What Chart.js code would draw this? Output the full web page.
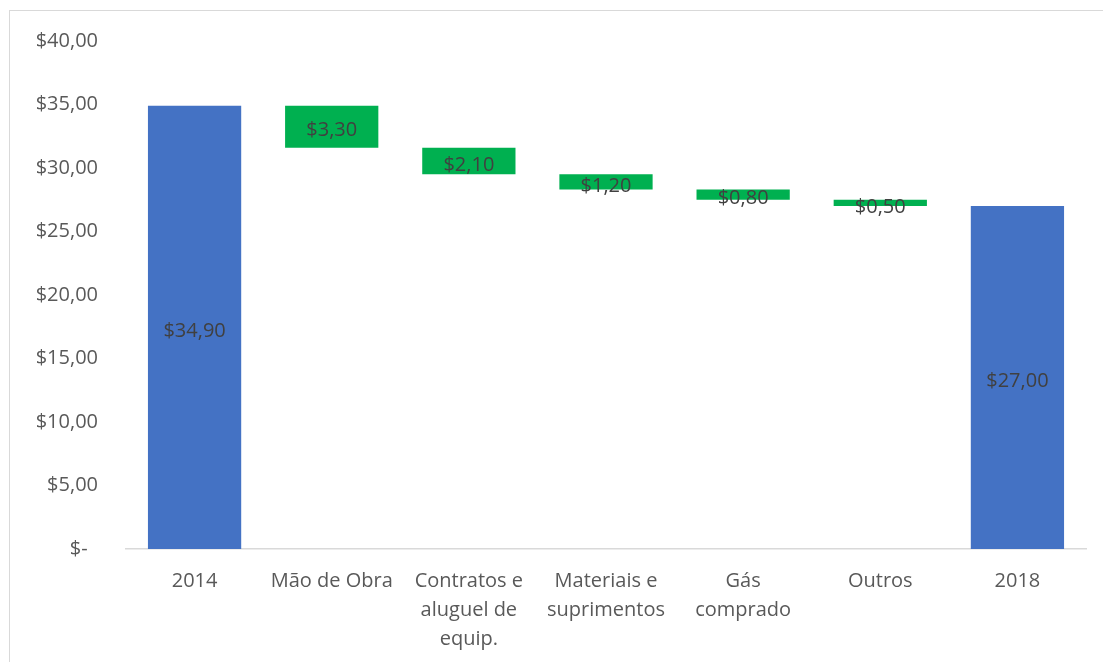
<!DOCTYPE html>
<html>
<head>
<meta charset="utf-8">
<script src="https://cdn.jsdelivr.net/npm/chart.js@4"></script>
<style>
  html, body { margin: 0; padding: 0; background: #fff; overflow: hidden; }
  #frame {
    position: absolute; left: 9px; top: 10px; width: 1200px; height: 800px;
    border-left: 1px solid #d9d9d9; border-top: 1px solid #d9d9d9;
  }
  #wrap { position: absolute; left: 0; top: 0; width: 1103px; height: 662px; }
</style>
</head>
<body>
<div id="frame"></div>
<div id="wrap"><canvas id="waterfall_chart" width="1103" height="662"></canvas></div>
<script>
const categories = [
  '2014',
  'Mão de Obra',
  ['Contratos e', 'aluguel de', 'equip.'],
  ['Materiais e', 'suprimentos'],
  ['Gás', 'comprado'],
  'Outros',
  '2018',
]
// totals are start/end values, the rest are reductions
const values = [34.9, 3.3, 2.1, 1.2, 0.8, 0.5, 27.0]
const isTotal = [true, false, false, false, false, false, true]
const yTicks = [0, 5, 10, 15, 20, 25, 30, 35, 40]

const money = (v) => '$' + v.toFixed(2).replace('.', ',')

// build floating bars for the waterfall
let running = 0
const ranges = values.map((v, i) => {
  if (isTotal[i]) {
    running = v
    return [0, v]
  }
  const top = running
  running = running - v
  return [running, top]
})

const barLabels = {
  id: 'barLabels',
  afterDatasetsDraw(chart) {
    const ctx = chart.ctx
    const meta = chart.getDatasetMeta(0)
    ctx.save()
    ctx.font = '20px "Open Sans"'
    ctx.fillStyle = '#404040'
    ctx.textAlign = 'center'
    ctx.textBaseline = 'middle'
    meta.data.forEach((bar, i) => {
      const mid = (bar.y + bar.base) / 2
      ctx.fillText(money(values[i]), bar.x, mid + 4)
    })
    ctx.restore()
  },
}

new Chart(document.getElementById('waterfall_chart').getContext('2d'), {
  type: 'bar',
  data: {
    labels: categories,
    datasets: [
      {
        data: ranges,
        backgroundColor: isTotal.map((t) => (t ? '#4472C4' : '#00B050')),
        borderWidth: 0,
        categoryPercentage: 1,
        barPercentage: 0.68,
      },
    ],
  },
  plugins: [barLabels],
  options: {
    responsive: false,
    animation: false,
    layout: {
      padding: { top: 41, right: 17, bottom: 0, left: 0 },
    },
    plugins: {
      legend: { display: false },
      tooltip: { enabled: false },
    },
    scales: {
      x: {
        grid: { display: false },
        border: { display: true, color: '#d9d9d9', width: 1.5 },
        ticks: {
          color: '#595959',
          font: { family: 'Open Sans', size: 20, lineHeight: 1.45 },
          padding: 10,
          maxRotation: 0,
          autoSkip: false,
        },
        afterFit(axis) {
          axis.height = 113
        },
      },
      y: {
        min: 0,
        max: 40,
        afterBuildTicks(axis) {
          axis.ticks = yTicks.map((v) => ({ value: v }))
        },
        grid: { display: false },
        border: { display: false },
        ticks: {
          color: '#595959',
          font: { family: 'Open Sans', size: 20 },
          padding: 20,
          callback: (v) => (v === 0 ? '$-  ' : money(v)),
        },
        afterFit(axis) {
          axis.width = 126
        },
      },
    },
  },
})
</script>
</body>
</html>
